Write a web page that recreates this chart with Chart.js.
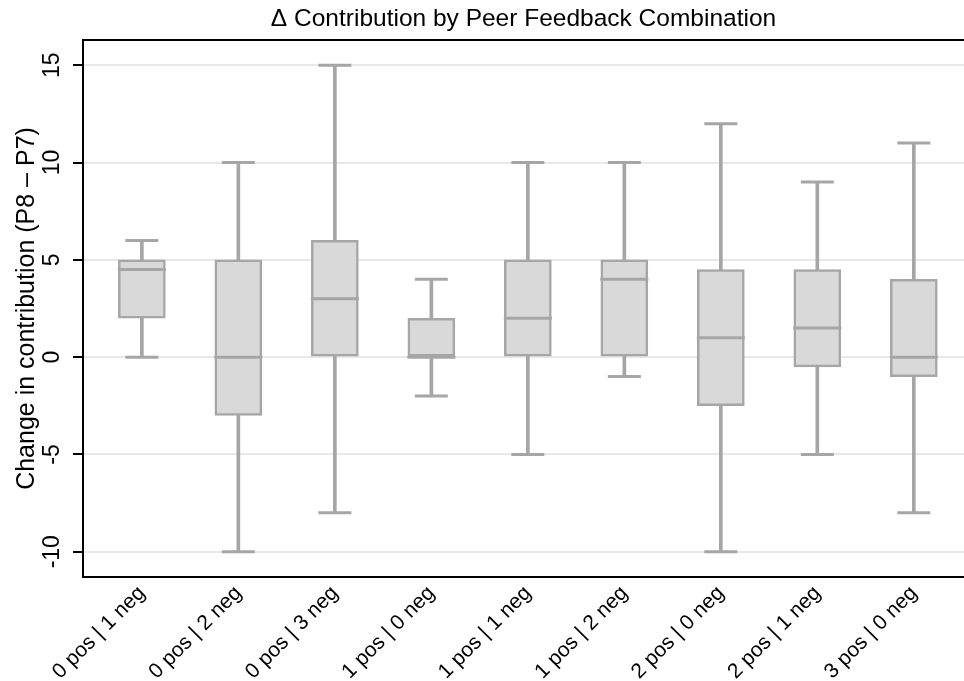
<!DOCTYPE html>
<html>
<head>
<meta charset="utf-8">
<script src="https://cdn.jsdelivr.net/npm/chart.js@4.4.1/dist/chart.umd.min.js"></script>
<style>
  html, body { margin: 0; padding: 0; background: #fff; overflow: hidden; }
  #wrap { width: 964px; height: 681px; position: relative; }
  canvas { display: block; }
</style>
</head>
<body>
<div id="wrap"><canvas id="chart"></canvas></div>
<script>
// categories and box-plot statistics
const categories = ['0 pos | 1 neg', '0 pos | 2 neg', '0 pos | 3 neg', '1 pos | 0 neg', '1 pos | 1 neg',
  '1 pos | 2 neg', '2 pos | 0 neg', '2 pos | 1 neg', '3 pos | 0 neg'];
const whiskerLow  = [0, -10, -8, -2, -5, -1, -10, -5, -8];
const q1          = [2, -3, 0, 0, 0, 0, -2.5, -0.5, -1];
const median      = [4.5, 0, 3, 0, 2, 4, 1, 1.5, 0];
const q3          = [5, 5, 6, 2, 5, 5, 4.5, 4.5, 4];
const whiskerHigh = [6, 10, 15, 4, 10, 10, 12, 9, 11];
const yTicks = [-10, -5, 0, 5, 10, 15];

const GREY = '#a6a6a6';
const FONT = 'Liberation Sans, Arial, Helvetica, sans-serif';

const pts = arr => arr.map((v, i) => ({ x: i, y: v }));

// the wide 'line' point markers (medians, caps) would otherwise reserve
// layout padding on every side and pull the plot in from the right edge
Chart.LineController.prototype.getMaxOverflow = function () { return 0; };

// title + top frame line (title is centred over the plot area)
const frame = {
  id: 'frame',
  afterDraw(chart) {
    const { ctx, chartArea: a } = chart;
    ctx.save();
    ctx.strokeStyle = '#000';
    ctx.lineWidth = 2;
    ctx.beginPath();
    ctx.moveTo(a.left - 1, a.top);
    ctx.lineTo(a.right, a.top);
    ctx.stroke();
    ctx.fillStyle = '#000';
    ctx.font = '24.5px ' + FONT;
    ctx.textAlign = 'center';
    ctx.textBaseline = 'middle';
    ctx.fillText('\u0394 Contribution by Peer Feedback Combination', (a.left + a.right) / 2, 19);
    ctx.restore();
  }
};

new Chart(document.getElementById('chart'), {
  type: 'bar',
  data: {
    datasets: [
      { type: 'line', label: 'median', data: pts(median), showLine: false, order: 0,
        pointStyle: 'line', pointRadius: 24, pointBorderWidth: 3, pointBorderColor: GREY, borderColor: GREY },
      { type: 'line', label: 'cap high', data: pts(whiskerHigh), showLine: false, order: 1,
        pointStyle: 'line', pointRadius: 16.5, pointBorderWidth: 3, pointBorderColor: GREY, borderColor: GREY },
      { type: 'line', label: 'cap low', data: pts(whiskerLow), showLine: false, order: 1,
        pointStyle: 'line', pointRadius: 16.5, pointBorderWidth: 3, pointBorderColor: GREY, borderColor: GREY },
      { label: 'box', data: q1.map((v, i) => ({ x: i, y: [v, q3[i]] })), order: 2, grouped: false,
        backgroundColor: '#d9d9d9', borderColor: GREY, borderWidth: 2.5, borderSkipped: false,
        barPercentage: 1, categoryPercentage: 1, maxBarThickness: 47 },
      { label: 'whisker', data: whiskerLow.map((v, i) => ({ x: i, y: [v, whiskerHigh[i]] })), order: 3, grouped: false,
        backgroundColor: GREY, borderWidth: 0,
        barPercentage: 1, categoryPercentage: 1, maxBarThickness: 3 }
    ]
  },
  options: {
    responsive: true,
    maintainAspectRatio: false,
    animation: false,
    layout: { padding: { top: 40, left: 0, right: 0, bottom: 0 } },
    plugins: { legend: { display: false }, tooltip: { enabled: false }, title: { display: false } },
    scales: {
      x: {
        type: 'linear',
        offset: false,
        min: -0.61,
        max: 8.52,
        afterBuildTicks: s => { s.ticks = categories.map((_, i) => ({ value: i })); },
        afterFit: s => { s.height = 104; s.paddingRight = 0; },
        grid: { display: false, drawTicks: false, offset: false },
        border: { display: true, color: '#000', width: 2 },
        ticks: {
          callback: v => categories[v],
          minRotation: 45, maxRotation: 45,
          autoSkip: false,
          padding: 4,
          color: '#000',
          font: { family: FONT, size: 21 }
        }
      },
      y: {
        min: -11.3,
        max: 16.3,
        afterBuildTicks: s => { s.ticks = yTicks.map(v => ({ value: v })); },
        afterFit: s => { s.width = 83; },
        grid: { color: '#e8e8e8', lineWidth: 2, tickColor: '#000', tickLength: 10, tickWidth: 2 },
        border: { display: true, color: '#000', width: 2 },
        ticks: {
          minRotation: 90, maxRotation: 90,
          crossAlign: 'center',
          padding: 4,
          color: '#000',
          font: { family: FONT, size: 23 }
        },
        title: {
          display: true,
          text: 'Change in contribution (P8 \u2013 P7)',
          color: '#000',
          font: { family: FONT, size: 25 },
          padding: { top: 12, bottom: 0 }
        }
      }
    }
  },
  plugins: [frame]
});
</script>
</body>
</html>
